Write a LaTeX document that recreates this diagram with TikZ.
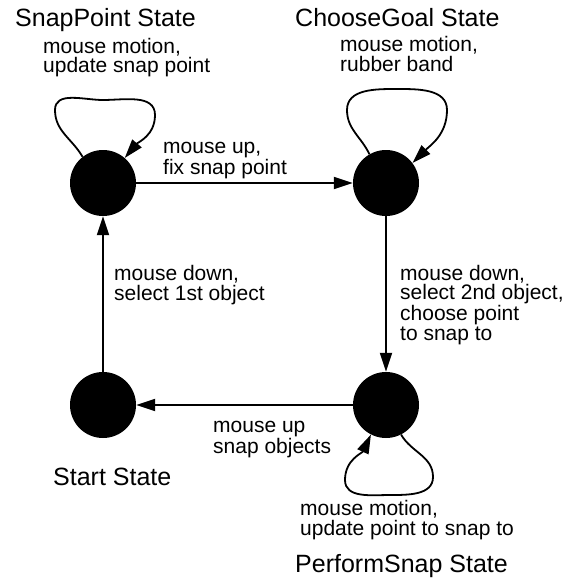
\documentclass[tikz,border=0pt]{standalone}
\usepackage{fontspec}
\setmainfont{Liberation Sans}
\usetikzlibrary{arrows.meta,calc}
\begin{document}
\begin{tikzpicture}[x=1pt,y=1pt,
  state/.style={circle,fill=black,minimum size=66pt,inner sep=0pt},
  conn/.style={line width=1.8pt,-{Triangle[length=19pt,width=12pt]}},
  lbl/.style={font=\fontsize{21}{19.5}\selectfont,align=left,anchor=base west,inner sep=0pt},
  ttl/.style={font=\fontsize{25}{30}\selectfont,anchor=base west,inner sep=0pt}]
\useasboundingbox (0,0) rectangle (570,-578);
\node[state] (A) at (103,-183) {};
\node[state] (B) at (386,-183) {};
\node[state] (C) at (386,-405) {};
\node[state] (D) at (103,-405) {};
\draw[conn] (A) -- (B);
\draw[conn] (B) -- (C);
\draw[conn] (C) -- (D);
\draw[conn] (D) -- (A);
\draw[conn] (A.128) to[out=120,in=-90] ($(A)+(-48,73)$) to[out=90,in=180] ($(A)+(0,83)$) to[out=0,in=90] ($(A)+(52,68)$) to[out=-90,in=50] (A.49);
\draw[conn] (B.120) to[out=115,in=-90] ($(B)+(-39,73)$) to[out=90,in=180] ($(B)+(11,94)$) to[out=0,in=90] ($(B)+(61,73)$) to[out=-90,in=45] (B.37);
\draw[conn] (C.-63) to[out=-60,in=90] ($(C)+(47,-72)$) to[out=-90,in=0] ($(C)+(4,-90)$) to[out=180,in=-90] ($(C)+(-41,-75)$) to[out=90,in=-115] (C.243);
\node[ttl] (tA) at (15,-27) {SnapPoint State};
\node[lbl] (lA) at (43,-73) {mouse motion,\\update snap point};
\node[ttl] (tB) at (295,-27) {ChooseGoal State};
\node[lbl] (lB) at (340,-71) {mouse motion,\\rubber band};
\node[lbl] (lAB) at (163,-174) {mouse up,\\fix snap point};
\node[lbl] (lDA) at (114,-300) {mouse down,\\select 1st object};
\node[lbl] (lBC) at (400,-340) {mouse down,\\select 2nd object,\\choose point\\to snap to};
\node[lbl] (lCD) at (213,-453) {mouse up\\snap objects};
\node[ttl] (tD) at (53,-485) {Start State};
\node[lbl] (lC) at (300,-535) {mouse motion,\\update point to snap to};
\node[ttl] (tC) at (295,-572) {PerformSnap State};
\end{tikzpicture}
\end{document}
